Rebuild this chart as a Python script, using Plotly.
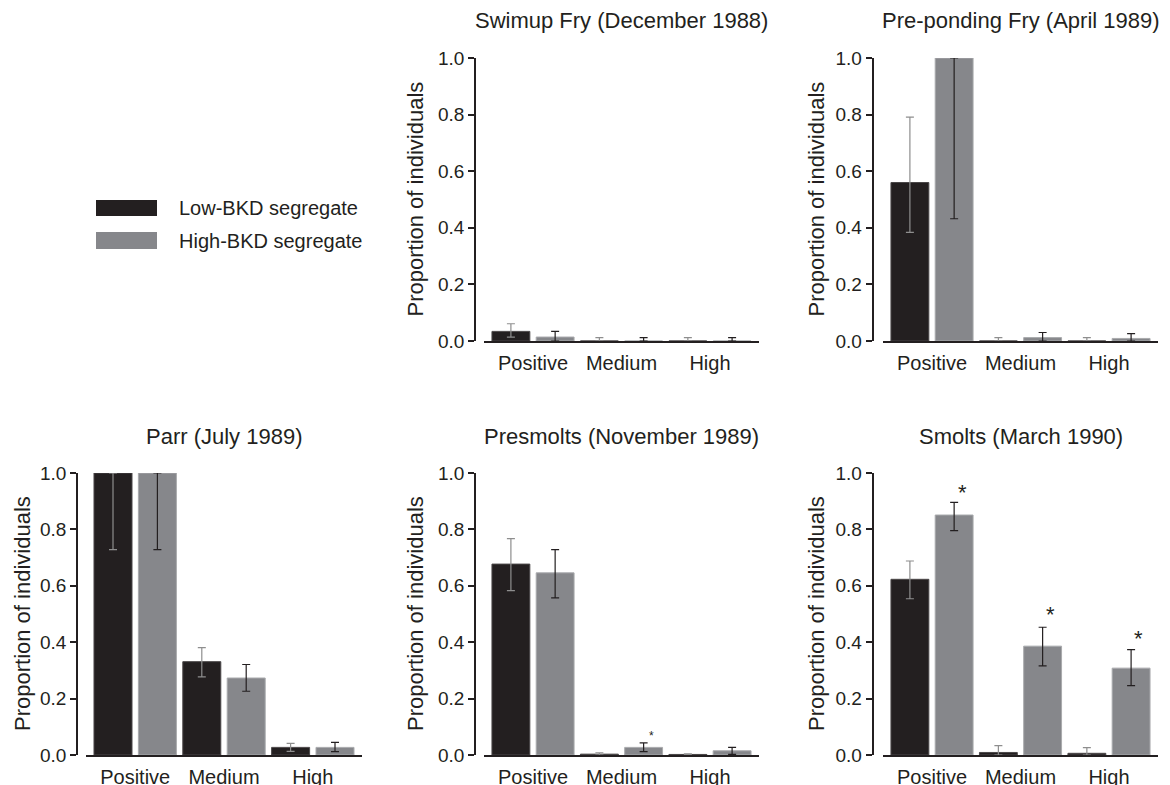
import plotly.graph_objects as go

categories = ["Positive", "Medium", "High"]
series_names = ["Low-BKD segregate", "High-BKD segregate"]
panel_titles = [
    "Swimup Fry (December 1988)",
    "Pre-ponding Fry (April 1989)",
    "Parr (July 1989)",
    "Presmolts (November 1989)",
    "Smolts (March 1990)",
]
y_title = "Proportion of individuals"
y_ticks = [0.0, 0.2, 0.4, 0.6, 0.8, 1.0]

# Swimup fry
swimup_low = [0.034, 0.0, 0.0]
swimup_low_ci_upper = [0.061, 0.012, 0.012]
swimup_low_ci_lower = [0.014, 0.0, 0.0]
swimup_high = [0.014, 0.0, 0.0]
swimup_high_ci_upper = [0.034, 0.012, 0.012]
swimup_high_ci_lower = [0.0, 0.0, 0.0]

# Pre-ponding fry
preponding_low = [0.56, 0.0, 0.0]
preponding_low_ci_upper = [0.791, 0.012, 0.012]
preponding_low_ci_lower = [0.384, 0.0, 0.0]
preponding_high = [1.0, 0.012, 0.009]
preponding_high_ci_upper = [1.0, 0.030, 0.026]
preponding_high_ci_lower = [0.432, 0.0, 0.0]

# Parr
parr_low = [1.0, 0.331, 0.027]
parr_low_ci_upper = [1.0, 0.381, 0.041]
parr_low_ci_lower = [0.728, 0.277, 0.013]
parr_high = [1.0, 0.273, 0.027]
parr_high_ci_upper = [1.0, 0.321, 0.045]
parr_high_ci_lower = [0.728, 0.226, 0.012]

# Presmolts
presmolts_low = [0.677, 0.003, 0.002]
presmolts_low_ci_upper = [0.767, 0.008, 0.004]
presmolts_low_ci_lower = [0.583, 0.0, 0.0]
presmolts_high = [0.646, 0.027, 0.015]
presmolts_high_ci_upper = [0.728, 0.043, 0.027]
presmolts_high_ci_lower = [0.557, 0.012, 0.002]

# Smolts
smolts_low = [0.623, 0.009, 0.006]
smolts_low_ci_upper = [0.688, 0.033, 0.026]
smolts_low_ci_lower = [0.554, 0.0, 0.0]
smolts_high = [0.851, 0.386, 0.308]
smolts_high_ci_upper = [0.896, 0.453, 0.374]
smolts_high_ci_lower = [0.796, 0.316, 0.246]

# significance asterisks (panel index, category, y)
star_panel = [3, 4, 4, 4]
star_category = ["Medium", "Positive", "Medium", "High"]
star_y = [0.073, 0.944, 0.511, 0.425]
star_size = [12, 22, 22, 22]

panels = [
    (swimup_low, swimup_low_ci_upper, swimup_low_ci_lower,
     swimup_high, swimup_high_ci_upper, swimup_high_ci_lower),
    (preponding_low, preponding_low_ci_upper, preponding_low_ci_lower,
     preponding_high, preponding_high_ci_upper, preponding_high_ci_lower),
    (parr_low, parr_low_ci_upper, parr_low_ci_lower,
     parr_high, parr_high_ci_upper, parr_high_ci_lower),
    (presmolts_low, presmolts_low_ci_upper, presmolts_low_ci_lower,
     presmolts_high, presmolts_high_ci_upper, presmolts_high_ci_lower),
    (smolts_low, smolts_low_ci_upper, smolts_low_ci_lower,
     smolts_high, smolts_high_ci_upper, smolts_high_ci_lower),
]

W, H = 1170, 785
OFF = 8  # page body margin compensation
INK = "#231f20"
BLACK = "#231f20"
GRAY = "#86878b"
ERR_GRAY = "#8e8e8e"
FONT = "Liberation Sans, Arial, Helvetica, sans-serif"

# pixel layout of each panel: x-axis start/end, y-axis line x, y top (1.0) / bottom (0)
layout_px = [
    (484, 759, 475, 58, 341),
    (883, 1158, 872.5, 58, 341),
    (86, 362, 77, 473, 755),
    (484, 759, 475, 473, 755),
    (883, 1158, 872.5, 473, 755),
]
ylabel_x_px = [415, 816, 22, 415, 816]


def px_x(v):
    return (v - OFF) / W


def px_y(v):
    return 1 - (v - OFF) / H


fig = go.Figure()
layout = dict(
    width=W, height=H,
    margin=dict(l=0, r=0, t=0, b=0, autoexpand=False),
    paper_bgcolor="white", plot_bgcolor="white",
    barmode="group", bargap=0.0, bargroupgap=0.144,
    showlegend=False,
    font=dict(family=FONT, color=INK, size=19),
)
annotations = []
shapes = []

for i, (lo, lo_up, lo_dn, hi, hi_up, hi_dn) in enumerate(panels):
    n = "" if i == 0 else str(i + 1)
    xa, ya = "x" + n, "y" + n
    fig.add_trace(go.Bar(
        x=categories, y=lo, name=series_names[0], xaxis=xa, yaxis=ya,
        marker=dict(color=BLACK, line=dict(color="#4a4748", width=1)),
        error_y=dict(type="data", symmetric=False,
                     array=[u - v for u, v in zip(lo_up, lo)],
                     arrayminus=[v - d for v, d in zip(lo, lo_dn)],
                     color=ERR_GRAY, thickness=1.2, width=4),
        cliponaxis=False, offsetgroup="low",
    ))
    fig.add_trace(go.Bar(
        x=categories, y=hi, name=series_names[1], xaxis=xa, yaxis=ya,
        marker=dict(color=GRAY, line=dict(color="#a9aaad", width=1)),
        error_y=dict(type="data", symmetric=False,
                     array=[u - v for u, v in zip(hi_up, hi)],
                     arrayminus=[v - d for v, d in zip(hi, hi_dn)],
                     color=INK, thickness=1.2, width=4),
        cliponaxis=False, offsetgroup="high",
    ))
    x0, x1, yax, ytop, ybot = layout_px[i]
    layout["xaxis" + n] = dict(
        domain=[px_x(x0), px_x(x1)], anchor=ya, automargin=False,
        type="category", categoryorder="array", categoryarray=categories,
        range=[-0.554, 2.554],
        showline=True, linecolor=INK, linewidth=1.5,
        ticks="", showgrid=False, zeroline=False,
        tickfont=dict(size=20, color=INK), ticklabelstandoff=3,
        fixedrange=True,
    )
    layout["yaxis" + n] = dict(
        domain=[px_y(ybot), px_y(ytop)], anchor="free", position=px_x(yax),
        automargin=False,
        range=[0, 1.0], tickvals=y_ticks, ticktext=[f"{t:.1f}" for t in y_ticks],
        showline=True, linecolor=INK, linewidth=1.5,
        ticks="outside", ticklen=6, tickwidth=1.5, tickcolor=INK,
        showgrid=False, zeroline=False,
        tickfont=dict(size=19, color=INK),
        fixedrange=True,
    )
    # panel title
    annotations.append(dict(
        text=panel_titles[i], xref="paper", yref="paper",
        x=px_x((x0 + x1) / 2), y=px_y(ytop - 37), xanchor="center", yanchor="middle",
        showarrow=False, font=dict(size=22, color=INK),
    ))
    # y axis title
    annotations.append(dict(
        text=y_title, xref="paper", yref="paper", textangle=-90,
        x=px_x(ylabel_x_px[i]), y=px_y((ytop + ybot) / 2),
        xanchor="center", yanchor="middle",
        showarrow=False, font=dict(size=22, color=INK),
    ))

for p, c, yv, s in zip(star_panel, star_category, star_y, star_size):
    n = "" if p == 0 else str(p + 1)
    annotations.append(dict(
        text="*", xref="x" + n, yref="y" + n, x=c, y=yv,
        xshift=30, yshift=-s * 0.15, xanchor="center", yanchor="middle",
        showarrow=False, font=dict(size=s, color=INK),
    ))

# legend drawn manually
legend_rows = [(series_names[0], BLACK, 200, 216), (series_names[1], GRAY, 232, 249)]
for name, col, y0, y1 in legend_rows:
    shapes.append(dict(
        type="rect", xref="paper", yref="paper",
        x0=px_x(96), x1=px_x(157), y0=px_y(y1), y1=px_y(y0),
        fillcolor=col, line=dict(width=0),
    ))
    annotations.append(dict(
        text=name, xref="paper", yref="paper",
        x=px_x(177), y=px_y((y0 + y1) / 2), xanchor="left", yanchor="middle",
        showarrow=False, font=dict(size=20, color=INK),
    ))

layout["annotations"] = annotations
layout["shapes"] = shapes
fig.update_layout(**layout)
fig.write_html("out.html")
